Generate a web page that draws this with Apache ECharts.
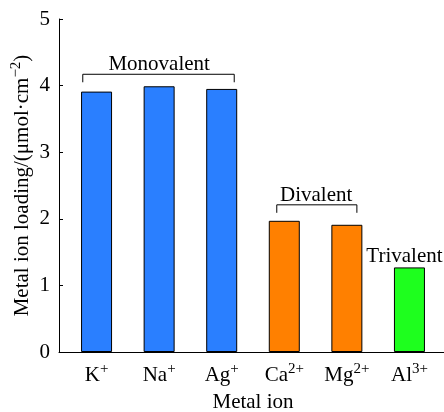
<!DOCTYPE html>
<html><head><meta charset="utf-8">
<script src="https://cdn.jsdelivr.net/npm/echarts@6/dist/echarts.min.js"></script>
<style>html,body{margin:0;padding:0;background:#fff}#c{width:444px;height:412px}</style>
</head><body><div id="c"></div>
<script>
// ---- data ----
const ions = ['K', 'Na', 'Ag', 'Ca', 'Mg', 'Al'];
const charges = ['+', '+', '+', '2+', '2+', '3+'];
const loading = [3.91, 3.99, 3.95, 1.97, 1.91, 1.27];
const valence = [1, 1, 1, 2, 2, 3];
const yTicks = [0, 1, 2, 3, 4, 5];
// group annotations
const groupNames = ['Monovalent', 'Divalent', 'Trivalent'];
const groupLabelX = [2.0, 4.51, 5.92];
const groupLabelY = [4.31, 2.35, 1.44];
const bracketStart = [0.78, 3.88];
const bracketEnd = [3.2, 5.16];
const bracketTop = [4.17, 2.21];
const bracketLow = [4.05, 2.09];

// ---- style ----
const FONT = "'Liberation Serif','Times New Roman',serif";
const colors = {1: '#2A7FFF', 2: '#FF8000', 3: '#1EFF1E'};
const rich = {
  b: {fontFamily: FONT, fontSize: 21, color: '#000', lineHeight: 24, verticalAlign: 'bottom'},
  s: {fontFamily: FONT, fontSize: 15, color: '#000', lineHeight: 14, verticalAlign: 'top'}
};

const barData = loading.map((v, i) => ({
  value: [i + 1, v],
  itemStyle: {color: colors[valence[i]]}
}));

const bracketSeries = bracketStart.map((x0, k) => ({
  type: 'line',
  data: [[x0, bracketLow[k]], [x0, bracketTop[k]], [bracketEnd[k], bracketTop[k]], [bracketEnd[k], bracketLow[k]]],
  symbol: 'none',
  lineStyle: {color: '#000', width: 1},
  silent: true,
  z: 5
}));

const chart = echarts.init(document.getElementById('c'), null, {renderer: 'canvas'});
chart.setOption({
  animation: false,
  backgroundColor: '#fff',
  grid: {left: 59, right: -3, top: 19, bottom: 60, containLabel: false, outerBoundsMode: 'none'},
  xAxis: {
    type: 'value', min: 0.4, max: 6.6,
    splitLine: {show: false},
    axisLine: {show: true, lineStyle: {color: '#000', width: 1}},
    axisTick: {show: false},
    axisLabel: {
      customValues: ions.map((_, i) => i + 1),
      margin: 10,
      formatter: (v) => {
        const i = Math.round(v) - 1;
        return '{b|' + ions[i] + '}{s|' + charges[i] + '}';
      },
      rich: rich
    },
    name: 'Metal ion',
    nameLocation: 'middle',
    nameGap: 40,
    nameMoveOverlap: false,
    nameTextStyle: {fontFamily: FONT, fontSize: 21, color: '#000'}
  },
  yAxis: {
    type: 'value', min: 0, max: 5, interval: 1,
    splitLine: {show: false},
    axisLine: {show: true, lineStyle: {color: '#000', width: 1}},
    axisTick: {show: true, inside: true, length: 4, lineStyle: {color: '#000'}},
    axisLabel: {fontFamily: FONT, fontSize: 21, color: '#000', margin: 9,
      formatter: (v) => yTicks.includes(v) ? String(v) : ''},
    name: '{b|Metal ion loading/(μmol·cm}{s|−2}{b|)}',
    nameLocation: 'middle',
    nameGap: 26,
    nameMoveOverlap: false,
    nameRotate: 90,
    nameTextStyle: {rich: rich}
  },
  series: [
    {
      type: 'bar',
      data: barData,
      barWidth: 31,
      itemStyle: {borderColor: '#000', borderWidth: 1},
      z: 3
    },
    ...bracketSeries,
    {
      type: 'scatter',
      data: groupNames.map((n, k) => [groupLabelX[k], groupLabelY[k], n]),
      symbolSize: 0,
      silent: true,
      itemStyle: {opacity: 1},
      label: {show: true, position: 'inside', formatter: (p) => p.value[2], opacity: 1,
        fontFamily: FONT, fontSize: 21, color: '#000'},
      z: 6
    }
  ]
});
</script></body></html>
